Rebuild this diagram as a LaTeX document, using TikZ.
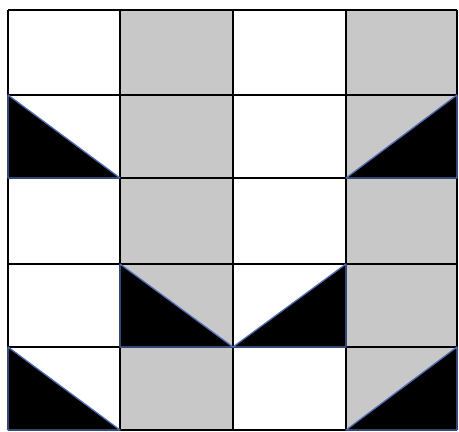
\documentclass[tikz,border=0pt]{standalone}
\definecolor{cellgray}{RGB}{200,200,200}
\definecolor{triedge}{RGB}{80,110,180}
\begin{document}
\begin{tikzpicture}[x=1pt,y=-1pt,
  gridline/.style={draw=black,line width=1.6pt},
  tri/.style={fill=black,draw=triedge,line width=1.3pt,line join=round}]
\useasboundingbox (0,0) rectangle (459,432);
\fill[white] (0,0) rectangle (459,432);
% gray columns
\fill[cellgray] (120,10) rectangle (233,430);
\fill[cellgray] (346,10) rectangle (457,430);
% grid
\foreach \x in {8,120,233,346,457} \draw[gridline] (\x,10) -- (\x,430);
\foreach \y in {10,95,178,264,347,430} \draw[gridline] (8,\y) -- (457,\y);
% triangles
\draw[tri] (8,95) -- (8,178) -- (120,178) -- cycle;
\draw[tri] (457,95) -- (457,178) -- (346,178) -- cycle;
\draw[tri] (120,264) -- (120,347) -- (233,347) -- cycle;
\draw[tri] (346,264) -- (346,347) -- (233,347) -- cycle;
\draw[tri] (8,347) -- (8,430) -- (120,430) -- cycle;
\draw[tri] (457,347) -- (457,430) -- (346,430) -- cycle;
\end{tikzpicture}
\end{document}
